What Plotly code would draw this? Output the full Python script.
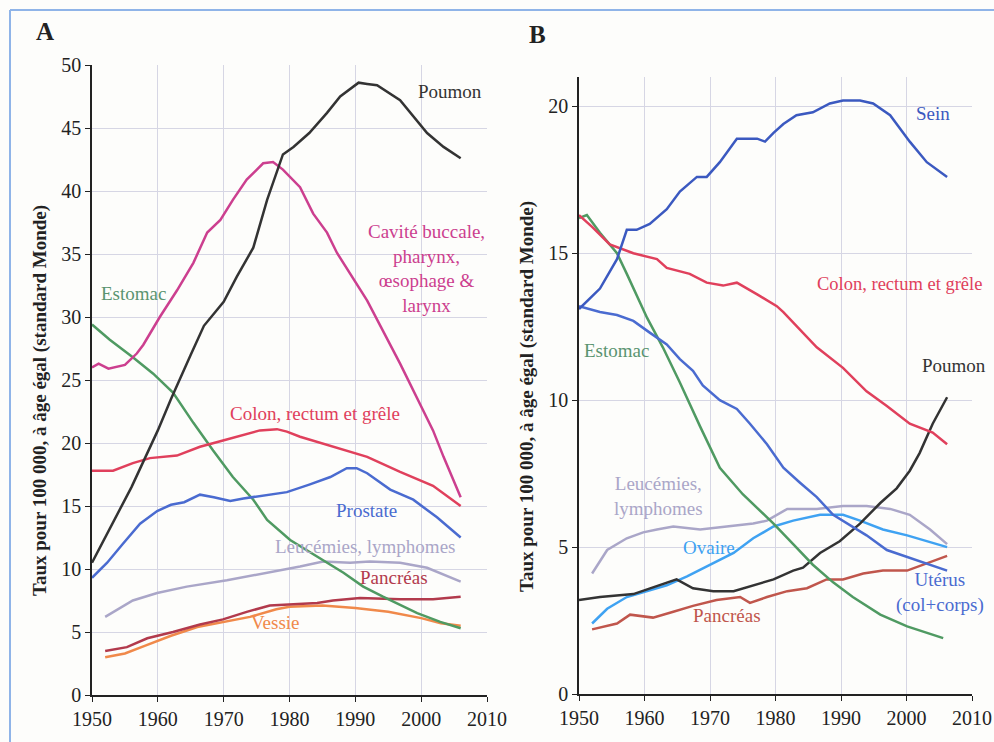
import plotly.graph_objects as go

# ---------------- Panel A data ----------------
a_poumon_x = [1950, 1953, 1956, 1960, 1962, 1965, 1967, 1970, 1972, 1974.5, 1976.6, 1979, 1980.6, 1983, 1985.7, 1987.7, 1990.5, 1991.8, 1993.3, 1996.8, 2000.9, 2003.4, 2006]
a_poumon_y = [10.5, 13.5, 16.5, 21.0, 23.5, 27.0, 29.3, 31.2, 33.2, 35.5, 39.3, 42.9, 43.5, 44.6, 46.2, 47.5, 48.6, 48.5, 48.4, 47.2, 44.6, 43.5, 42.6]

a_cavite_x = [1950, 1951, 1952.5, 1955, 1956.8, 1957.8, 1960.3, 1962.9, 1965.4, 1967.5, 1969.5, 1971.4, 1973.5, 1976, 1977.5, 1979, 1981.6, 1983.6, 1985.7, 1987.2, 1991.8, 1996.8, 2001.8, 2003.4, 2006]
a_cavite_y = [26.0, 26.3, 25.9, 26.2, 27.1, 27.8, 30.0, 32.1, 34.3, 36.7, 37.7, 39.3, 40.9, 42.2, 42.3, 41.7, 40.3, 38.2, 36.7, 35.1, 31.3, 26.3, 21.0, 18.9, 15.7]

a_estomac_x = [1950, 1952.7, 1956.2, 1959.3, 1962.3, 1965.4, 1968.4, 1971.4, 1974.5, 1976.6, 1980.1, 1984.2, 1988.2, 1991.2, 1994.2, 1999.4, 2002.9, 2006]
a_estomac_y = [29.4, 28.2, 26.8, 25.5, 24.0, 21.6, 19.4, 17.3, 15.5, 13.9, 12.3, 11.0, 9.7, 8.6, 7.8, 6.5, 5.8, 5.3]

a_colon_x = [1950, 1953.2, 1956.2, 1958.8, 1962.9, 1966.4, 1969.9, 1972.5, 1975.5, 1978.1, 1979.6, 1981.6, 1984.2, 1986.6, 1989.2, 1991.8, 1996.8, 2001.8, 2006]
a_colon_y = [17.8, 17.8, 18.4, 18.8, 19.0, 19.7, 20.2, 20.6, 21.0, 21.1, 20.9, 20.5, 20.1, 19.7, 19.3, 18.9, 17.7, 16.6, 15.0]

a_prostate_x = [1950, 1952.3, 1954.7, 1957.3, 1959.9, 1962, 1964, 1966.4, 1968.5, 1971, 1973, 1975.5, 1979.6, 1983, 1986.2, 1988.7, 1990.2, 1991.8, 1995.3, 1998.8, 2002.4, 2006]
a_prostate_y = [9.3, 10.5, 12.0, 13.6, 14.6, 15.1, 15.3, 15.9, 15.7, 15.4, 15.6, 15.8, 16.1, 16.7, 17.3, 18.0, 18.0, 17.6, 16.3, 15.5, 14.1, 12.5]

a_leuc_x = [1952, 1956.2, 1959.9, 1964.4, 1970.5, 1976.6, 1981.6, 1985.1, 1989.2, 1992.2, 1996.8, 2000.9, 2006]
a_leuc_y = [6.2, 7.5, 8.1, 8.6, 9.1, 9.7, 10.2, 10.6, 10.5, 10.6, 10.5, 10.1, 9.0]

a_pancreas_x = [1952, 1955.3, 1958.4, 1962.3, 1966.4, 1969.9, 1973.5, 1977, 1980.6, 1984.2, 1986.6, 1990.7, 1996.8, 2001.8, 2006]
a_pancreas_y = [3.5, 3.8, 4.5, 5.0, 5.6, 6.0, 6.6, 7.1, 7.2, 7.3, 7.5, 7.7, 7.6, 7.6, 7.8]

a_vessie_x = [1952, 1955, 1958, 1962, 1966, 1970, 1974, 1978, 1980, 1985, 1990, 1995, 2000, 2003, 2006]
a_vessie_y = [3.0, 3.3, 3.9, 4.7, 5.4, 5.8, 6.2, 6.8, 7.0, 7.1, 6.9, 6.6, 6.1, 5.7, 5.5]

# ---------------- Panel B data ----------------
b_sein_x = [1950, 1953.2, 1955.8, 1957.3, 1958.8, 1960.8, 1963.4, 1965.4, 1968, 1969.5, 1971.5, 1974.1, 1977.2, 1978.4, 1979.7, 1981.2, 1983.2, 1985.7, 1988.3, 1990.3, 1992.9, 1994.9, 1997.5, 2000.5, 2003.1, 2006.2]
b_sein_y = [13.1, 13.8, 14.8, 15.8, 15.8, 16.0, 16.5, 17.1, 17.6, 17.6, 18.1, 18.9, 18.9, 18.8, 19.1, 19.4, 19.7, 19.8, 20.1, 20.2, 20.2, 20.1, 19.7, 18.8, 18.1, 17.6]

b_colon_x = [1950, 1952, 1954.7, 1958.3, 1961.9, 1963.4, 1966.9, 1969.5, 1972, 1974.1, 1977.2, 1980.2, 1981.2, 1983.7, 1986.3, 1990.3, 1993.9, 1997, 2000.5, 2004, 2006.2]
b_colon_y = [16.3, 15.9, 15.3, 15.0, 14.8, 14.5, 14.3, 14.0, 13.9, 14.0, 13.6, 13.2, 13.0, 12.4, 11.8, 11.1, 10.3, 9.8, 9.2, 8.9, 8.5]

b_estomac_x = [1950, 1951.2, 1953.2, 1955.8, 1957.3, 1960.4, 1962.8, 1965.4, 1968.5, 1971.5, 1975, 1979.7, 1982.7, 1985.7, 1988.8, 1991.8, 1996, 2000.1, 2005.6]
b_estomac_y = [16.2, 16.3, 15.7, 15.0, 14.3, 12.8, 11.8, 10.6, 9.1, 7.7, 6.8, 5.8, 5.1, 4.4, 3.8, 3.3, 2.7, 2.3, 1.9]

b_uterus_x = [1950, 1953.2, 1955.8, 1958.3, 1960.8, 1963.4, 1965.4, 1967.4, 1968.9, 1971.5, 1974.1, 1976.1, 1978.7, 1981.2, 1983.7, 1986.3, 1988.8, 1991.8, 1993.9, 1997, 2001, 2006.2]
b_uterus_y = [13.2, 13.0, 12.9, 12.7, 12.3, 11.9, 11.4, 11.0, 10.5, 10.0, 9.7, 9.2, 8.5, 7.7, 7.2, 6.7, 6.1, 5.7, 5.4, 4.9, 4.6, 4.2]

b_poumon_x = [1950, 1953.2, 1958.3, 1964.9, 1967.4, 1970.5, 1973.6, 1976.6, 1979.7, 1982.7, 1984.2, 1986.8, 1989.8, 1992.9, 1996, 1998.5, 2000.5, 2002, 2004, 2006.2]
b_poumon_y = [3.2, 3.3, 3.4, 3.9, 3.6, 3.5, 3.5, 3.7, 3.9, 4.2, 4.3, 4.8, 5.2, 5.8, 6.5, 7.0, 7.6, 8.2, 9.2, 10.1]

b_leuc_x = [1952, 1954.3, 1957.3, 1959.8, 1961.9, 1964.4, 1968.5, 1972.6, 1976.6, 1978.7, 1981.8, 1986.3, 1990.3, 1993.9, 1997.5, 2000.5, 2003.6, 2006.2]
b_leuc_y = [4.1, 4.9, 5.3, 5.5, 5.6, 5.7, 5.6, 5.7, 5.8, 5.9, 6.3, 6.3, 6.4, 6.4, 6.3, 6.1, 5.6, 5.1]

b_ovaire_x = [1952, 1954.3, 1957.3, 1960.4, 1963.4, 1966.5, 1970, 1973.6, 1976.6, 1979.7, 1982.7, 1986.8, 1990.3, 1992.9, 1996.4, 2000.1, 2006.2]
b_ovaire_y = [2.4, 2.9, 3.3, 3.5, 3.7, 4.0, 4.4, 4.8, 5.3, 5.7, 5.9, 6.1, 6.1, 5.9, 5.6, 5.4, 5.0]

b_pancreas_x = [1952, 1955.8, 1957.8, 1961.3, 1964.4, 1967.4, 1971, 1974.6, 1976.1, 1978.7, 1981.8, 1984.8, 1987.8, 1990.3, 1993.4, 1996.4, 2000.1, 2002.6, 2006.2]
b_pancreas_y = [2.2, 2.4, 2.7, 2.6, 2.8, 3.0, 3.2, 3.3, 3.1, 3.3, 3.5, 3.6, 3.9, 3.9, 4.1, 4.2, 4.2, 4.4, 4.7]

year_ticks = [1950, 1960, 1970, 1980, 1990, 2000, 2010]
a_ticks = [0, 5, 10, 15, 20, 25, 30, 35, 40, 45, 50]
b_ticks = [0, 5, 10, 15, 20]

y_title = "Taux pour 100 000, à âge égal (standard Monde)"

# colors
C_BLACK = "#333333"
C_MAGENTA = "#cc3f8f"
C_GREEN = "#4f9a62"
C_RED = "#e0405c"
C_BLUE = "#4a6bd0"
C_DBLUE = "#3b59c0"
C_LEUC = "#aaa6c8"
C_PANC_A = "#b23a4c"
C_PANC_B = "#c0564c"
C_VESSIE = "#f0894a"
C_OVAIRE = "#3fa2f2"

# body margin is removed in post_script, so the figure covers the whole page
OFF = 0
W, H = 994, 742
FONT = "Liberation Serif"

fig = go.Figure()

def add(x, y, color, xa, ya, width=2.5):
    fig.add_trace(go.Scatter(x=x, y=y, mode="lines", line=dict(color=color, width=width),
                             xaxis=xa, yaxis=ya, showlegend=False, hoverinfo="skip"))

# panel A
add(a_leuc_x, a_leuc_y, C_LEUC, "x", "y")
add(a_vessie_x, a_vessie_y, C_VESSIE, "x", "y")
add(a_pancreas_x, a_pancreas_y, C_PANC_A, "x", "y")
add(a_estomac_x, a_estomac_y, C_GREEN, "x", "y")
add(a_prostate_x, a_prostate_y, C_BLUE, "x", "y")
add(a_colon_x, a_colon_y, C_RED, "x", "y")
add(a_cavite_x, a_cavite_y, C_MAGENTA, "x", "y")
add(a_poumon_x, a_poumon_y, C_BLACK, "x", "y")

# panel B
add(b_leuc_x, b_leuc_y, C_LEUC, "x2", "y2")
add(b_pancreas_x, b_pancreas_y, C_PANC_B, "x2", "y2")
add(b_ovaire_x, b_ovaire_y, C_OVAIRE, "x2", "y2")
add(b_poumon_x, b_poumon_y, C_BLACK, "x2", "y2")
add(b_estomac_x, b_estomac_y, C_GREEN, "x2", "y2")
add(b_uterus_x, b_uterus_y, C_BLUE, "x2", "y2")
add(b_colon_x, b_colon_y, C_RED, "x2", "y2")
add(b_sein_x, b_sein_y, C_DBLUE, "x2", "y2")

def px_x(p):
    return (p - OFF) / W

def px_y(p):
    return 1 - (p - OFF) / H

grid = "#d6d6e4"
axis_common = dict(showline=True, linecolor="#222", linewidth=1.5, ticks="outside", ticklen=5, tickcolor="#222",
                   showgrid=True, gridcolor=grid, gridwidth=1, zeroline=False, automargin=False,
                   tickfont=dict(family=FONT, size=20, color="#222"))

fig.update_layout(
    template="none",
    width=W, height=H,
    margin=dict(l=0, r=0, t=0, b=0, autoexpand=False),
    paper_bgcolor="#fdfdfb", plot_bgcolor="#fdfdfb",
    xaxis=dict(domain=[px_x(92), px_x(487)], range=[1950, 2010], tickvals=year_ticks, anchor="y", **axis_common),
    yaxis=dict(domain=[px_y(695), px_y(65)], range=[0, 50], tickvals=a_ticks, anchor="x", **axis_common),
    xaxis2=dict(domain=[px_x(579), px_x(972)], range=[1950, 2010], tickvals=year_ticks, anchor="y2", **axis_common),
    yaxis2=dict(domain=[px_y(694), px_y(77)], range=[0, 21], tickvals=b_ticks, anchor="x2", **axis_common),
)

def ann(text, x, y, color, size=19, xanchor="center", bold=False, angle=0):
    fig.add_annotation(text=("<b>%s</b>" % text) if bold else text, x=px_x(x), y=px_y(y), xref="paper", yref="paper",
                       showarrow=False, xanchor=xanchor, yanchor="middle", textangle=angle,
                       font=dict(family=FONT, size=size, color=color))

# panel letters
ann("A", 45, 32, "#222", size=25, bold=True)
ann("B", 537, 34, "#222", size=25, bold=True)

# y titles
ann(y_title, 40, 401, "#222", size=19, bold=True, angle=-90)
ann(y_title, 527, 397, "#222", size=19, bold=True, angle=-90)

# panel A labels
ann("Poumon", 450, 92, C_BLACK)
ann("Cavité buccale,<br>pharynx,<br>œsophage &amp;<br>larynx", 426, 268, C_MAGENTA)
ann("Estomac", 133, 293, "#5a9470")
ann("Colon, rectum et grêle", 315, 413, C_RED)
ann("Prostate", 366, 510, C_BLUE)
ann("Leucémies, lymphomes", 365, 546, C_LEUC)
ann("Pancréas", 394, 577, C_PANC_A)
ann("Vessie", 275, 622, C_VESSIE)

# panel B labels
ann("Sein", 933, 113, C_DBLUE)
ann("Colon, rectum et grêle", 899, 284, C_RED, size=18.5)
ann("Estomac", 616, 350, "#5a9470")
ann("Poumon", 954, 365, C_BLACK)
ann("Leucémies,<br>lymphomes", 658, 496, C_LEUC)
ann("Ovaire", 709, 547, C_OVAIRE)
ann("Utérus<br>(col+corps)", 940, 592, C_BLUE)
ann("Pancréas", 727, 615, C_PANC_B)

# frame (top and left edges)
fig.add_shape(type="line", xref="paper", yref="paper", x0=px_x(10), x1=1, y0=px_y(10), y1=px_y(10),
              line=dict(color="#8fb4e8", width=2))
fig.add_shape(type="line", xref="paper", yref="paper", x0=px_x(10), x1=px_x(10), y0=0, y1=px_y(10),
              line=dict(color="#8fb4e8", width=2))

fig.write_html("out.html", config={"displayModeBar": False},
               post_script="document.body.style.margin='0px';document.body.style.overflow='hidden';")
